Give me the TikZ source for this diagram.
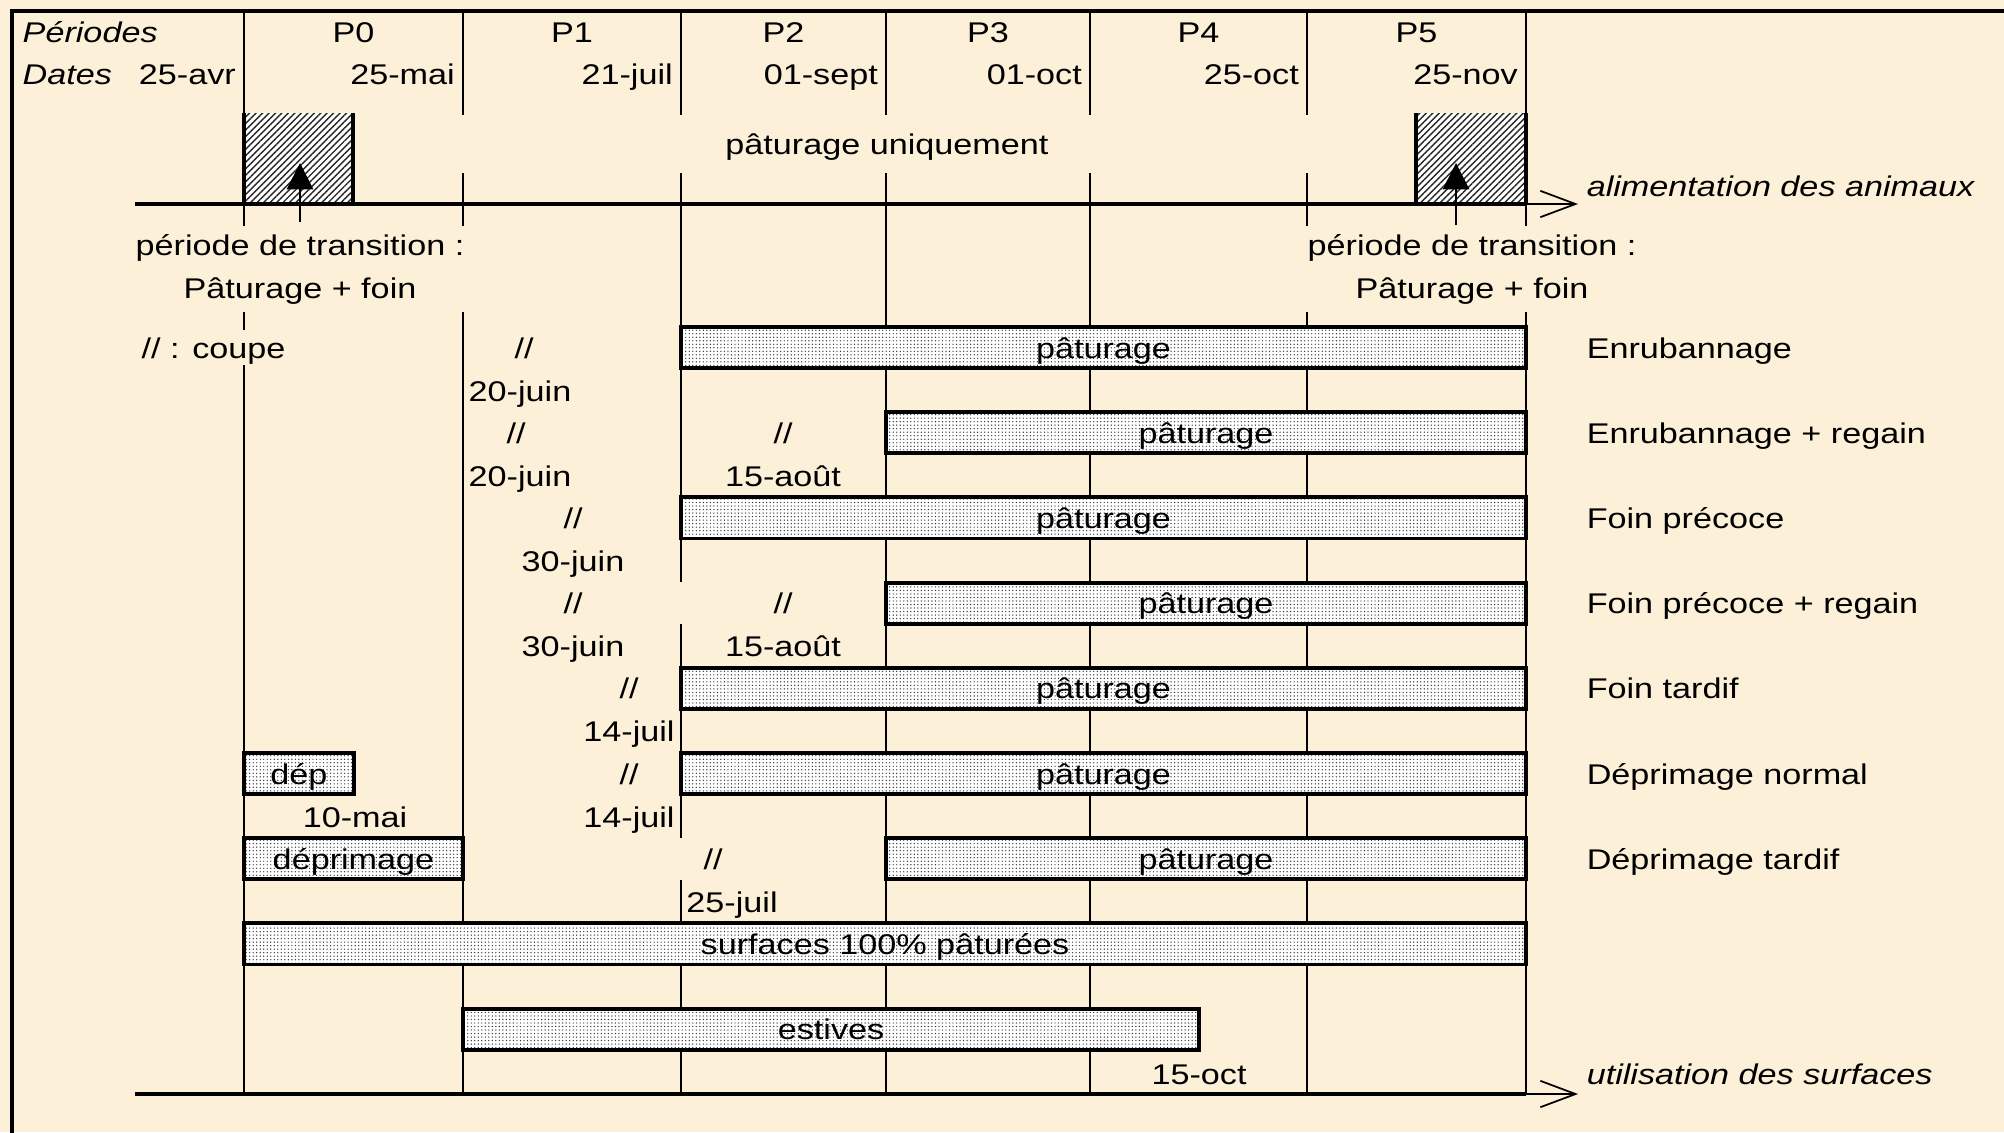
\documentclass[tikz,border=0pt]{standalone}
\usepackage{fontspec}
\setmainfont{Liberation Sans}[FakeStretch=1.2]
\usetikzlibrary{positioning,arrows.meta,patterns.meta}
\definecolor{bg}{RGB}{252,240,216}
\newcommand{\txt}{\fontsize{8.1}{12.2}\selectfont}

\begin{document}
\begin{tikzpicture}[x=0.01cm, y=-0.01cm, node distance={4.3mm}, font=\txt,
        lbl/.style = {fill=bg, inner sep=1pt, text height=7pt, text depth=1pt},
        ital/.style = {lbl, font=\txt\itshape},
        trans/.style = {fill=bg, align=center, inner sep=0pt, minimum width=3.4cm, minimum height=0.86cm},
        barbox/.style = {draw, line width=1.1pt, minimum height=4.1mm, inner sep=0pt, text height=7pt, text depth=1pt, preaction={fill=white}, pattern={Dots[distance=1pt, radius=0.2pt]}, pattern color=black!80},
        hatch/.style = {preaction={fill=white}, pattern={Lines[angle=45, distance=1.3pt, line width=0.4pt]}, pattern color=black!85},
        gridline/.style = {line width=0.45pt},
        thickline/.style = {line width=1.15pt},
        axistip/.style = {line width=0.5pt, -{Straight Barb[length=10pt, width=7.5pt]}},
        uparrow/.style = {line width=0.6pt, -{Triangle[length=7.5pt, width=7.5pt]}}]
        \useasboundingbox (0,0) rectangle (2004,1132);
        \fill[bg] (0,0) rectangle (2004,1132);
        \draw[thickline] (12,1140) -- (12,11) -- (2010,11);
        \draw[gridline] (244,11) -- (244,1094) (463,11) -- (463,1094) (681,11) -- (681,1094) (886,11) -- (886,1094)
                (1090,11) -- (1090,1094) (1307,11) -- (1307,1094) (1526,11) -- (1526,1094);

        \node[ital, anchor=west] (per) at (18.5,32) {Périodes};
        \node[ital, anchor=west] (dat) at (18.5,74) {Dates};
        \node[lbl] (p0) at (353.5,32) {P0};
        \node[lbl] (p1) at (572,32) {P1};
        \node[lbl] (p2) at (783.5,32) {P2};
        \node[lbl] (p3) at (988,32) {P3};
        \node[lbl] (p4) at (1198.5,32) {P4};
        \node[lbl] (p5) at (1416.5,32) {P5};
        \node[lbl, anchor=east] (e0) at (240,74) {25-avr};
        \node[lbl, anchor=east] (e1) at (459,74) {25-mai};
        \node[lbl, anchor=east] (e2) at (677,74) {21-juil};
        \node[lbl, anchor=east] (e3) at (882,74) {01-sept};
        \node[lbl, anchor=east] (e4) at (1086,74) {01-oct};
        \node[lbl, anchor=east] (e5) at (1303,74) {25-oct};
        \node[lbl, anchor=east] (e6) at (1522,74) {25-nov};

        \path[hatch] (244,113) rectangle (353,204);
        \path[hatch] (1416,113) rectangle (1526,204);
        \draw[thickline] (244,113) -- (244,204) (353,113) -- (353,204) (1416,113) -- (1416,204) (1526,113) -- (1526,204);
        \node[lbl, minimum width=10.5cm, minimum height=0.58cm] (pu) at (887,144) {pâturage uniquement};

        \coordinate (a0) at (135,204);
        \coordinate (a1) at (1526,204);
        \coordinate (a2) at (1578,204);
        \draw[thickline] (a0) -- (a1);
        \draw[axistip] (a1) -- (a2);
        \node[ital, anchor=west] (al) at (1582.5,186) {alimentation des animaux};

        \node[trans] (tr1) at (300,269) {période de transition :\\Pâturage + foin};
        \node[trans] (tr2) at (1472,269) {période de transition :\\Pâturage + foin};

        \node[lbl, anchor=west] (cp) at (137.5,347.5) {// : coupe};
        \node[lbl] (c1) at (524,347.5) {//};
        \node[lbl] (d1) [below of = c1, xshift=-0.04cm] {20-juin};
        \node[lbl] (c2) at (516,432.7) {//};
        \node[lbl] (d2) [below of = c2, xshift=0.04cm] {20-juin};
        \node[lbl] (c3) at (783,432.7) {//};
        \node[lbl] (d3) [below of = c3] {15-août};
        \node[lbl] (c4) at (573,517.9) {//};
        \node[lbl] (d4) [below of = c4] {30-juin};
        \node[lbl] (c5) at (573,603.1) {//};
        \node[lbl] (d5) [below of = c5] {30-juin};
        \node[lbl, minimum width=2.1cm, minimum height=0.42cm] (c6) at (783,603.1) {//};
        \node[lbl] (d6) [below of = c6] {15-août};
        \node[lbl] (c7) at (629,688.3) {//};
        \node[lbl] (d7) [below of = c7] {14-juil};
        \node[lbl] (c8) at (629,773.5) {//};
        \node[lbl] (d8) [below of = c8] {14-juil};
        \node[lbl, minimum width=0.7cm, minimum height=0.42cm] (c9) at (713,858.7) {//};
        \node[lbl] (d9) [below of = c9, xshift=0.19cm] {25-juil};
        \node[lbl] (m1) at (355,816.5) {10-mai};
        \node[lbl] (o1) at (1199,1073.5) {15-oct};

        \node[barbox, minimum width=8.45cm] (b1) at (1103.5,347.5) {pâturage};
        \node[barbox, minimum width=6.4cm] (b2) at (1206,432.7) {pâturage};
        \node[barbox, minimum width=8.45cm] (b3) at (1103.5,517.9) {pâturage};
        \node[barbox, minimum width=6.4cm] (b4) at (1206,603.1) {pâturage};
        \node[barbox, minimum width=8.45cm] (b5) at (1103.5,688.3) {pâturage};
        \node[barbox, minimum width=8.45cm] (b6) at (1103.5,773.5) {pâturage};
        \node[barbox, minimum width=1.1cm] (dep) at (299,773.5) {dép};
        \node[barbox, minimum width=6.4cm] (b7) at (1206,858.7) {pâturage};
        \node[barbox, minimum width=2.19cm] (dpr) at (353.5,858.7) {déprimage};
        \node[barbox, minimum width=12.82cm] (b8) at (885,943.9) {surfaces 100\% pâturées};
        \node[barbox, minimum width=7.36cm] (b9) at (831,1029.1) {estives};

        \node[lbl, anchor=west] (r1) at (1582.5,347.5) {Enrubannage};
        \node[lbl, anchor=west] (r2) at (1582.5,432.7) {Enrubannage + regain};
        \node[lbl, anchor=west] (r3) at (1582.5,517.9) {Foin précoce};
        \node[lbl, anchor=west] (r4) at (1582.5,603.1) {Foin précoce + regain};
        \node[lbl, anchor=west] (r5) at (1582.5,688.3) {Foin tardif};
        \node[lbl, anchor=west] (r6) at (1582.5,773.5) {Déprimage normal};
        \node[lbl, anchor=west] (r7) at (1582.5,858.7) {Déprimage tardif};

        \coordinate (u0) at (135,1094);
        \coordinate (u1) at (1526,1094);
        \coordinate (u2) at (1578,1094);
        \draw[thickline] (u0) -- (u1);
        \draw[axistip] (u1) -- (u2);
        \node[ital, anchor=west] (us) at (1582.5,1074) {utilisation des surfaces};

        \coordinate (t1) at (300,222);
        \coordinate (h1) at (300,163);
        \coordinate (t2) at (1456,225);
        \coordinate (h2) at (1456,163);
        \draw[uparrow] (t1) -- (h1);
        \draw[uparrow] (t2) -- (h2);
\end{tikzpicture}
\end{document}
